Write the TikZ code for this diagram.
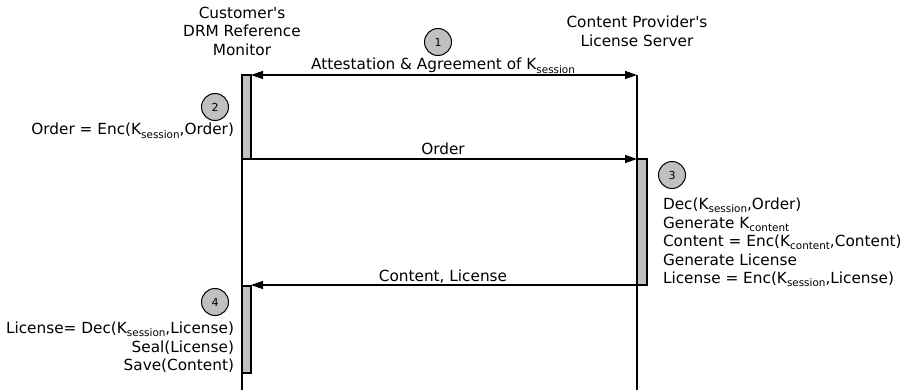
\documentclass[tikz,border=0pt]{standalone}
\usepackage{fontspec}
\setmainfont{DejaVu Sans}[Ligatures=TeXOff]
\usetikzlibrary{arrows.meta}
\definecolor{actgray}{HTML}{C0C0C0}
% key symbol with a lowered, smaller index
\newcommand\ksub[1]{K\raisebox{-0.2em}{\fontsize{10.4}{10.4}\selectfont #1}}

\begin{document}
\begin{tikzpicture}[x=1pt,y=-1pt,
  every node/.style={font=\fontsize{15.3}{18.5}\selectfont, inner sep=0pt, outer sep=0pt},
  life/.style={line width=1.3pt},
  act/.style={draw, line width=1.3pt, fill=actgray, minimum width=9pt, anchor=north west},
  msg/.style={line width=1.3pt, -{Triangle[length=12pt,width=8pt]}},
  stepno/.style={circle, draw, line width=1pt, fill=actgray, minimum size=27pt,
                 font=\fontsize{11}{11}\selectfont},
  lbl/.style={anchor=base}]
\useasboundingbox (0,0) rectangle (905,390);

% lifelines
\coordinate (ltop) at (242,75);
\coordinate (lbot) at (242,390);
\coordinate (rtop) at (637,75);
\coordinate (rbot) at (637,390);
\draw[life] (ltop) -- (lbot);
\draw[life] (rtop) -- (rbot);

% participants
\node[align=center, anchor=north] (cust) at (242,7) {Customer's\\DRM Reference\\Monitor};
\node[align=center, anchor=north] (prov) at (637,16) {Content Provider's\\License Server};

% activation bars
\node[act, minimum height=84pt] (a2) at (242,75) {};
\node[act, minimum height=126pt, minimum width=10pt] (a3) at (637,159) {};
\node[act, minimum height=87pt] (a4) at (242,286) {};

% messages
\draw[line width=1.3pt, {Triangle[length=12pt,width=8pt]}-{Triangle[length=12pt,width=8pt]}]
  (a2.north east) -- (rtop);
\node[lbl] (m1) at (443,70) {Attestation \& Agreement of \ksub{session}};

\draw[msg] (a2.south west) -- (a3.north west);
\node[lbl] (m2) at (443,155) {Order};

\draw[msg] (a3.south east) -- (a3.south east -| a4.north east);
\node[lbl] (m3) at (443,281) {Content, License};

% step markers
\node[stepno] (s1) at (438,42) {1};
\node[stepno] (s2) at (215,107) {2};
\node[stepno] (s3) at (672,175) {3};
\node[stepno] (s4) at (215,302) {4};

% processing steps
\node[anchor=base east] (p2) at (234,135) {Order = Enc(\ksub{session},Order)};
\node[anchor=north west, align=left] (p3) at (663,198)
  {Dec(\ksub{session},Order)\\
   Generate \ksub{content}\\
   Content = Enc(\ksub{content},Content)\\
   Generate License\\
   License = Enc(\ksub{session},License)};
\node[anchor=north east, align=right] (p4) at (234,322)
  {License= Dec(\ksub{session},License)\\
   Seal(License)\\
   Save(Content)};
\end{tikzpicture}
\end{document}
